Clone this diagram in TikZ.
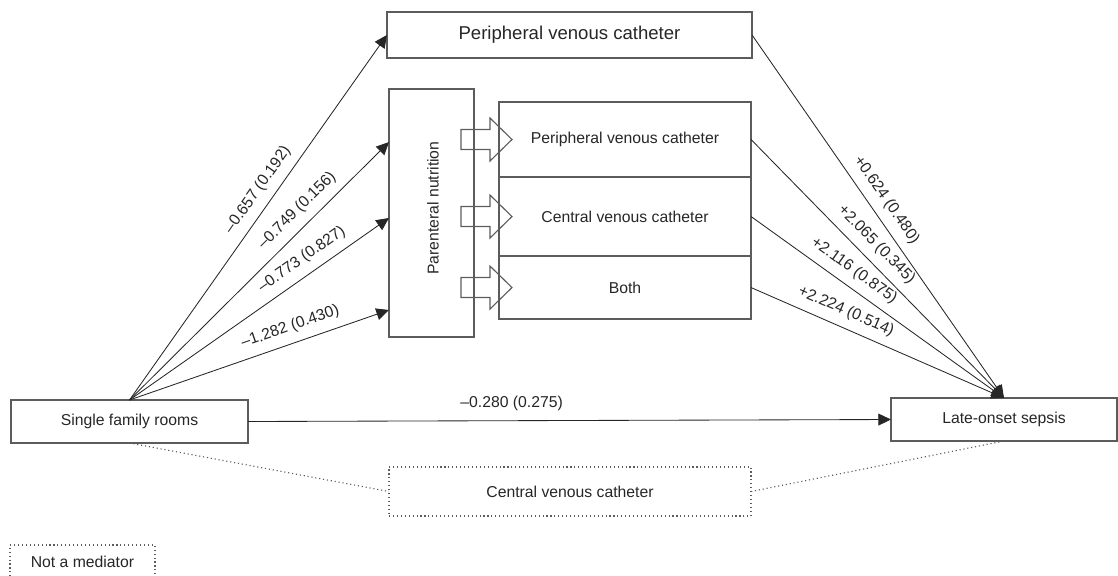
\documentclass[tikz,border=0pt]{standalone}
\usepackage{fontspec}
\setmainfont{Liberation Sans}
\usetikzlibrary{positioning,arrows.meta,calc}
\definecolor{boxgray}{HTML}{5C5C5C}
\definecolor{inkgray}{HTML}{262626}

\begin{document}
\begin{tikzpicture}[x=0.025cm, y=-0.025cm, font=\fontsize{11.2}{13}\selectfont, text=inkgray,
    box/.style={rectangle, draw=boxgray, line width=0.8pt, inner sep=0pt, outer sep=0pt},
    nonmed/.style={rectangle, draw=boxgray, dotted, line width=0.8pt, inner sep=0pt, outer sep=0pt},
    effect/.style={draw=inkgray, line width=0.6pt, -{Triangle[length=9pt,width=8.5pt]}},
    coef/.style={sloped, above=4pt, inner sep=2pt},
    hollow/.style={draw=boxgray, line width=0.8pt}]
    \useasboundingbox (0,0) rectangle (1118,575);

    \node[box, minimum width=9.125cm, minimum height=1.15cm, font=\fontsize{13.2}{15}\selectfont] (pvc) at (569.5,35) {Peripheral venous catheter};
    \node[box, minimum width=2.125cm, minimum height=6.2cm] (pn) at (431.5,213) {};
    \node[rotate=90] (pntext) at (433,208) {Parenteral nutrition};
    \node[box, minimum width=6.3cm, minimum height=1.875cm] (r1) at (625,139.5) {Peripheral venous catheter};
    \node[box, minimum width=6.3cm, minimum height=1.975cm, below=0pt of r1] (r2) {Central venous catheter};
    \node[box, minimum width=6.3cm, minimum height=1.575cm, below=0pt of r2] (r3) {Both};
    \node[box, minimum width=5.925cm, minimum height=1.075cm] (sfr) at (129.5,421.5) {Single family rooms};
    \node[box, minimum width=5.65cm, minimum height=1.075cm] (los) at (1004,419.5) {Late-onset sepsis};
    \node[nonmed, minimum width=9.05cm, minimum height=1.225cm] (cvc) at (570,491.5) {Central venous catheter};
    \node[nonmed, minimum width=3.625cm, minimum height=0.85cm] (key) at (82.5,562) {Not a mediator};

    % hollow arrows from PN into the catheter types
    \foreach \r in {r1,r2,r3}
        \draw[hollow] ([xshift=0.325cm]\r.west) -- ++(-22,-21.5) -- ++(0,11.5) -- ++(-29,0)
            -- ++(0,20) -- ++(29,0) -- ++(0,11.5) -- cycle;

    \draw[effect] (sfr.north) -- node[coef, pos=0.55] {–0.657 (0.192)} (pvc.west);
    \draw[effect] (sfr.north) -- node[coef, pos=0.69] {–0.749 (0.156)} ($(pn.north west)!0.214!(pn.south west)$);
    \draw[effect] (sfr.north) -- node[coef, pos=0.70] {–0.773 (0.827)} ($(pn.north west)!0.52!(pn.south west)$);
    \draw[effect] (sfr.north) -- node[coef, pos=0.64] {–1.282 (0.430)} ($(pn.north west)!0.891!(pn.south west)$);

    \draw[effect] (pvc.east) -- node[coef, pos=0.48] {+0.624 (0.480)} (los.north);
    \draw[effect] (r1.east) -- node[coef, pos=0.45] {+2.065 (0.345)} (los.north);
    \draw[effect] (r2.east) -- node[coef, pos=0.37] {+2.116 (0.875)} (los.north);
    \draw[effect] (r3.east) -- node[coef, pos=0.35] {+2.224 (0.514)} (los.north);

    \draw[effect] (sfr.east) -- node[above=5pt, inner sep=2pt, pos=0.41] {–0.280 (0.275)} (los.west);

    \draw[boxgray, dotted, line width=0.8pt] (sfr.south) -- (cvc.west);
    \draw[boxgray, dotted, line width=0.8pt] (cvc.east) -- (los.south);
\end{tikzpicture}
\end{document}
